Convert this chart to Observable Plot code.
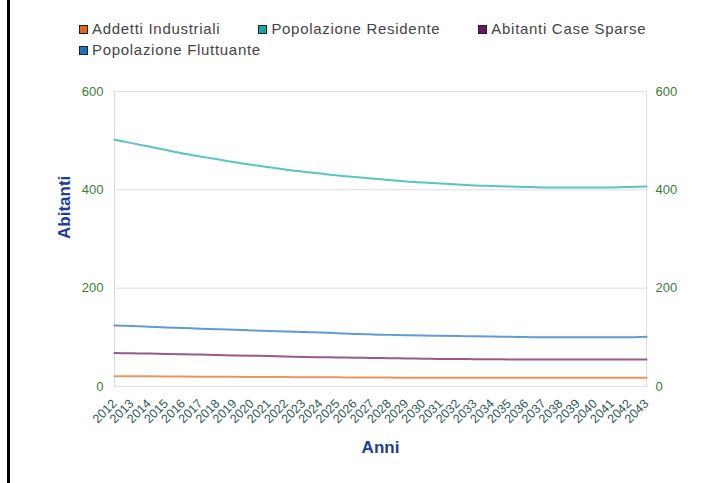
<!DOCTYPE html>
<html>
<head>
<meta charset="utf-8">
<script src="https://cdn.jsdelivr.net/npm/d3@7"></script>
<script src="https://cdn.jsdelivr.net/npm/@observablehq/plot@0.6"></script>
<style>
  html, body { margin: 0; padding: 0; background: #fff; }
  #wrap { position: relative; width: 725px; height: 483px; overflow: hidden; font-family: "Liberation Sans", Arial, sans-serif; }
  #border { position: absolute; left: 7px; top: 0; width: 3px; height: 483px; background: #000; }
  #legend { position: absolute; left: 79px; top: 20px; width: 640px; display: flex; flex-wrap: wrap; row-gap: 3px; }
  .item { display: flex; align-items: center; margin-right: 38px; font-size: 15px; letter-spacing: 0.7px; color: #444; line-height: 18px; }
  .sw { width: 7px; height: 7px; border: 1px solid #222; margin-right: 4px; }
  #chart { position: absolute; left: 0; top: 0; }
</style>
</head>
<body>
<div id="wrap">
  <div id="border"></div>
  <div id="legend"></div>
  <div id="chart"></div>
</div>
<script>
const years = d3.range(2012, 2044);
const seriesNames = ["Addetti Industriali", "Popolazione Residente", "Abitanti Case Sparse", "Popolazione Fluttuante"];
const seriesColors = ["#e0661b", "#12aba6", "#6d1360", "#1c71c2"];
const yTicks = [0, 200, 400, 600];

const addetti = [21, 20.8, 20.6, 20.4, 20.2, 20, 19.8, 19.6, 19.5, 19.3, 19.1, 19, 18.8, 18.6, 18.5, 18.3, 18.1, 18, 17.9, 17.8, 17.8, 17.7, 17.7, 17.7, 17.6, 17.6, 17.6, 17.6, 17.6, 17.6, 17.6, 17.6];
const residente = [502, 495, 488, 481, 474, 468, 462, 456, 451, 446, 441, 437, 433, 429, 426, 423, 420, 417, 415, 413, 411, 409, 408, 407, 406, 405, 405, 405, 405, 405, 406, 407];
const sparse = [68, 67.5, 67, 66, 65.5, 65, 64, 63, 62.5, 62, 61, 60, 59.5, 59, 58.5, 58, 57.5, 57, 56.5, 56, 56, 55.5, 55.5, 55, 55, 55, 55, 55, 55, 55, 55, 55];
const fluttuante = [124, 123, 121.5, 120, 119, 117.5, 116.5, 115.5, 114, 113, 112, 111, 110, 108.5, 107, 106, 105, 104, 103.5, 103, 102.5, 102, 101.5, 101, 100.5, 100, 100, 100, 100, 100, 100, 101];

const seriesValues = [addetti, residente, sparse, fluttuante];
const data = [];
seriesNames.forEach((name, i) => {
  years.forEach((y, j) => data.push({series: name, year: y, value: seriesValues[i][j]}));
});

// legend
const legend = document.getElementById("legend");
seriesNames.forEach((name, i) => {
  const it = document.createElement("div");
  it.className = "item";
  const sw = document.createElement("span");
  sw.className = "sw";
  sw.style.background = seriesColors[i];
  const tx = document.createElement("span");
  tx.textContent = name;
  it.appendChild(sw); it.appendChild(tx);
  legend.appendChild(it);
});

const chart = Plot.plot({
  width: 725,
  height: 483,
  marginTop: 91,
  marginBottom: 97,
  marginLeft: 114,
  marginRight: 79,
  style: {fontFamily: "'Liberation Sans', Arial, sans-serif", background: "transparent"},
  x: {domain: [2012, 2043]},
  y: {domain: [0, 600]},
  color: {domain: seriesNames, range: seriesColors},
  marks: [
    Plot.gridY(yTicks, {stroke: "#dcdce6", strokeOpacity: 1}),
    Plot.frame({stroke: "#dcdce6"}),
    Plot.axisY(yTicks, {anchor: "left", tickSize: 0, tickPadding: 11, fontSize: 13, fill: "#3a7d3a", label: null}),
    Plot.axisY(yTicks, {anchor: "right", tickSize: 0, tickPadding: 9, fontSize: 13, fill: "#3a7d3a", label: null}),
    Plot.axisX(years, {tickSize: 0, tickRotate: -45, tickPadding: 15, fontSize: 12.5, fill: "#2e5a57", label: null, tickFormat: d => String(d)}),
    Plot.line(data, {x: "year", y: "value", z: "series", stroke: "series", strokeWidth: 2, strokeOpacity: 0.7, curve: "monotone-x"}),
    Plot.text(["Abitanti"], {frameAnchor: "left", rotate: -90, dx: -50, fontSize: 17, fontWeight: "bold", fill: "#1a3d9c"}),
    Plot.text(["Anni"], {frameAnchor: "bottom", lineAnchor: "middle", dy: 61, fontSize: 17, fontWeight: "bold", fill: "#1a3d9c"})
  ]
});
document.getElementById("chart").appendChild(chart);
</script>
</body>
</html>
